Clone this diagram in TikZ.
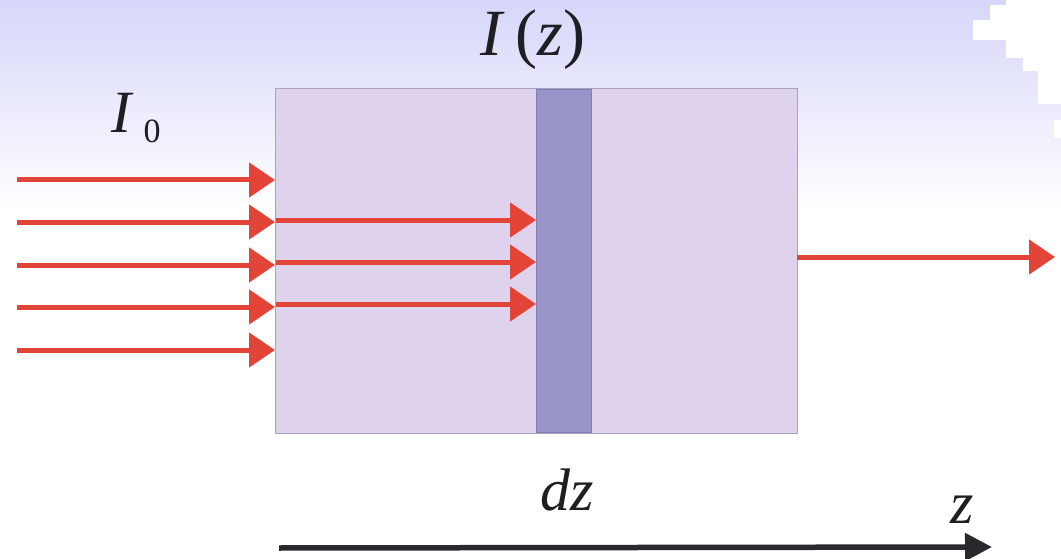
\documentclass[tikz,border=0pt]{standalone}
\usepackage{fontspec}
\setmainfont{Liberation Serif}
\usetikzlibrary{arrows.meta}
\definecolor{bgtop}{RGB}{214,214,250}
\definecolor{slabfill}{RGB}{222,210,237}
\definecolor{slabedge}{RGB}{168,162,190}
\definecolor{stripfill}{RGB}{154,149,201}
\definecolor{stripedge}{RGB}{130,125,180}
\definecolor{raycol}{RGB}{226,68,56}
\definecolor{axiscol}{RGB}{40,40,45}
\definecolor{txt}{RGB}{30,30,35}
\tikzset{
  ray/.style={draw=raycol, line width=5pt, -{Triangle[length=26pt,width=34pt]}},
  zaxis/.style={draw=axiscol, line width=5.5pt, -{Triangle[length=27pt,width=27pt]}},
  lbl/.style={inner sep=0pt, text=txt},
}
\begin{document}
\begin{tikzpicture}[x=1pt,y=-1pt]
\useasboundingbox (0,0) rectangle (1061,559);
\fill[white] (0,0) rectangle (1061,559);
\shade[top color=bgtop, bottom color=white] (0,0) rectangle (1061,210);
\fill[white] (1006,0) -- (1006,5) -- (990,5) -- (990,20) -- (973,20) -- (973,40) -- (1006,40) -- (1006,58) -- (1023,58) -- (1023,71) -- (1038,71) -- (1038,104) -- (1061,104) -- (1061,0) -- cycle;
\fill[white] (1054,120) rectangle (1061,138);
% slab and thin layer
\node[fill=slabfill, draw=slabedge, line width=1pt, minimum width=522pt, minimum height=345pt, anchor=north west, inner sep=0pt] (slab) at (275,88) {};
\node[fill=stripfill, draw=stripedge, line width=0.6pt, minimum width=55pt, minimum height=343pt, anchor=north west, inner sep=0pt] (strip) at (536,89) {};
% incoming rays
\foreach \y/\n in {180/a,222/b,265/c,307/d,350/e}{
  \coordinate (in\n) at (17,\y);
  \draw[ray] (in\n) -- (in\n -| slab.west);
}
% rays inside the slab
\foreach \y/\n in {220/b,262/c,304/d}{
  \coordinate (mid\n) at (276,\y);
  \draw[ray] (mid\n) -- (mid\n -| strip.west);
}
% outgoing ray
\coordinate (outstart) at (797,257);
\coordinate (outend) at (1055,257);
\draw[ray] (outstart) -- (outend);
% z axis
\coordinate (axstart) at (279,548);
\coordinate (axend) at (992,547);
\draw[zaxis] (axstart) -- (axend);
% labels
\node[lbl] (Izero) at (121,113) {\fontsize{60}{62}\selectfont\itshape I};
\node[lbl] (zero) at (152,131) {\fontsize{34}{36}\selectfont 0};
\node[lbl] (Iz) at (533,40) {\fontsize{66}{70}\selectfont\textit{I}\,(\textit{z})};
\node[lbl] (dz) at (567,490) {\fontsize{60}{62}\selectfont\itshape dz};
\node[lbl] (zlab) at (962,510) {\fontsize{60}{62}\selectfont\itshape z};
\end{tikzpicture}
\end{document}
